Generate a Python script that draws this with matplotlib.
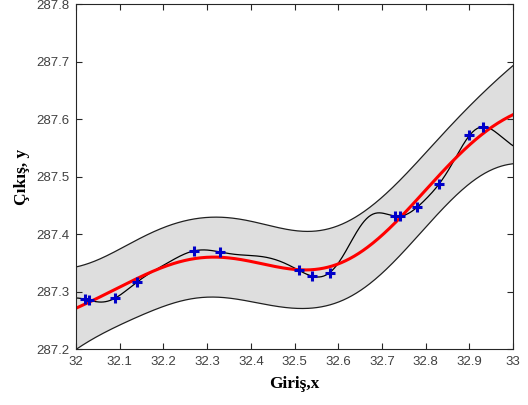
import matplotlib
matplotlib.use('Agg')
import matplotlib.pyplot as plt
import numpy as np

# measured points (Giriş x, Çıkış y)
x_data = np.array([32.02, 32.03, 32.09, 32.14, 32.27, 32.33, 32.51, 32.54,
                   32.58, 32.73, 32.74, 32.78, 32.83, 32.90, 32.93])
y_data = np.array([287.287, 287.285, 287.289, 287.317, 287.371, 287.369,
                   287.337, 287.327, 287.333, 287.432, 287.431, 287.447,
                   287.487, 287.572, 287.587])

x_ticks = [32, 32.1, 32.2, 32.3, 32.4, 32.5, 32.6, 32.7, 32.8, 32.9, 33]
y_ticks = [287.2, 287.3, 287.4, 287.5, 287.6, 287.7, 287.8]


def gp(xt, yt, xs, ls, sf, sn):
    # squared-exponential GP regression around a straight-line trend
    p = np.polyfit(xt, yt, 1)
    k = lambda a, b: sf**2 * np.exp(-(a[:, None] - b[None, :])**2 / (2 * ls**2))
    K = k(xt, xt) + sn**2 * np.eye(len(xt))
    Ks = k(xs, xt)
    mu = np.polyval(p, xs) + Ks @ np.linalg.solve(K, yt - np.polyval(p, xt))
    v = np.linalg.solve(K, Ks.T)
    var = sf**2 - np.sum(Ks * v.T, axis=1) + sn**2
    return mu, np.sqrt(var)


xs = np.linspace(32, 33, 400)
mu, sd = gp(x_data, y_data, xs, 0.22, 0.08, 0.03)
mu_fine, _ = gp(x_data, y_data, xs, 0.06, 0.1, 0.002)

fig = plt.figure(figsize=(5.28, 4.05), dpi=100)
ax1 = fig.add_axes([0.144, 0.138, 0.828, 0.851])

ax1.fill_between(xs, mu - 1.96 * sd, mu + 1.96 * sd, facecolor='#dedede',
                 edgecolor='none')
ax1.plot(xs, mu - 1.96 * sd, color='#202020', lw=0.9)
ax1.plot(xs, mu + 1.96 * sd, color='#202020', lw=0.9)
ax1.plot(xs, mu_fine, color='black', lw=0.9)
ax1.plot(xs, mu, color='#ff0000', lw=2.2)
ax1.plot(x_data, y_data, '+', color='#0000c8', ms=7, mew=2.2)

ax1.set_xlim(32, 33)
ax1.set_ylim(287.2, 287.8)
ax1.set_xticks(x_ticks)
ax1.set_xticklabels(['32', '32.1', '32.2', '32.3', '32.4', '32.5', '32.6',
                     '32.7', '32.8', '32.9', '33'])
ax1.set_yticks(y_ticks)
ax1.set_yticklabels(['287.2', '287.3', '287.4', '287.5', '287.6', '287.7', '287.8'])
ax1.tick_params(direction='in', top=True, right=True, length=4, width=0.8,
                colors='#262626', labelsize=9.5, labelcolor='#404040', pad=5)
for tl in ax1.get_xticklabels() + ax1.get_yticklabels():
    tl.set_family('Liberation Sans')
for s in ax1.spines.values():
    s.set_color('#262626')
    s.set_linewidth(0.8)

ax1.set_xlabel('Giriş,x', family='Liberation Serif', fontweight='bold',
               fontsize=12.5, labelpad=6)
ax1.set_ylabel('Çıkış, y', family='Liberation Serif', fontweight='bold',
               fontsize=12.5, labelpad=4)

fig.savefig('out.png', dpi=100)
